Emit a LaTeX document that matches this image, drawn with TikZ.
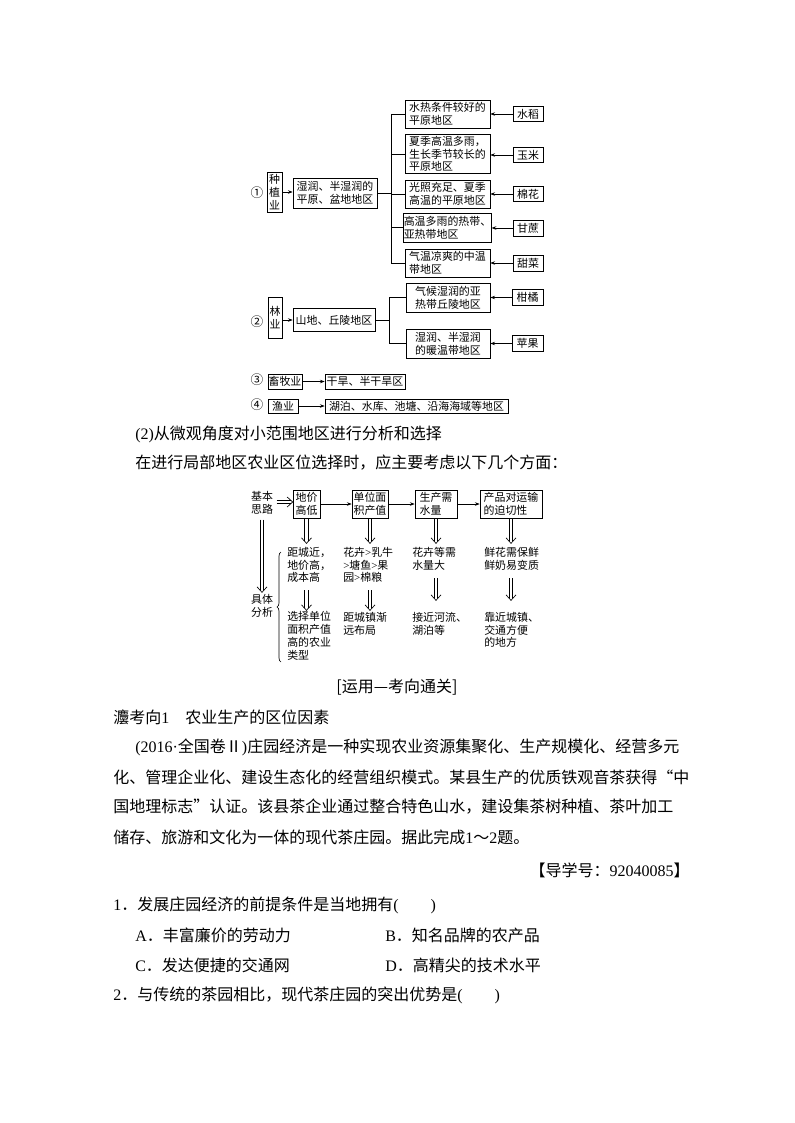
\documentclass[tikz,border=0pt]{standalone}
\usepackage{fontspec}
\setmainfont{Noto Sans CJK SC}
\newfontfamily\lat{Liberation Serif}
\XeTeXlinebreaklocale "zh"
\XeTeXlinebreakskip=0pt plus 2pt
\usetikzlibrary{arrows.meta,decorations.pathreplacing,calc}
\newcommand\dgf{\fontsize{8.2}{9.6}\selectfont}
\newcommand\txf{\fontsize{12}{14}\selectfont}
% vertical double arrow (downwards) from #1 to #2
\newcommand\dva[2]{%
  \draw[ln] ($(#1)+(-1.7,0)$) -- ($(#2)+(-1.7,-2)$);
  \draw[ln] ($(#1)+(1.7,0)$) -- ($(#2)+(1.7,-2)$);
  \draw[ln,line join=miter] ($(#2)+(-5,-5.5)$) -- (#2) -- ($(#2)+(5,-5.5)$);}
% horizontal double arrow (rightwards) from #1 to #2
\newcommand\dha[2]{%
  \draw[ln] ($(#1)+(0,-1.7)$) -- ($(#2)+(-2,-1.7)$);
  \draw[ln] ($(#1)+(0,1.7)$) -- ($(#2)+(-2,1.7)$);
  \draw[ln,line join=miter] ($(#2)+(-5.5,-5)$) -- (#2) -- ($(#2)+(-5.5,5)$);}
\begin{document}
\begin{tikzpicture}[x=0.75pt,y=-0.75pt,
  bx/.style={draw,line width=0.5pt,inner sep=0pt,align=left,font=\dgf},
  wh/.style 2 args={minimum width=#1*0.75pt,minimum height=#2*0.75pt},
  ar/.style={-{Stealth[length=3.5pt,width=2.6pt]},line width=0.5pt},
  ln/.style={line width=0.5pt},
  lbl/.style={inner sep=0pt,align=left,font=\dgf},
  num/.style={inner sep=0pt,font=\fontsize{9.5}{10}\selectfont},
  tx/.style={inner sep=0pt,anchor=west,font=\txf}]
\useasboundingbox (0,0) rectangle (794,1123);
\fill[white] (0,0) rectangle (794,1123);

% ---------- top diagram: group 1 ----------
\node[num] (c1) at (257,193) {①};
\node[bx,wh={15}{40},align=center] (zz) at (274.5,192) {种\\植\\业};
\node[bx,wh={84}{30}] (sr) at (335,193) {湿润、半湿润的\\平原、盆地地区};
\coordinate (b1) at (391,193);
\node[bx,wh={85}{28}] (m1) at (447.5,114) {水热条件较好的\\平原地区};
\node[bx,wh={85}{39}] (m2) at (447.5,154) {夏季高温多雨，\\生长季节较长的\\平原地区};
\node[bx,wh={85}{28}] (m3) at (447.5,194) {光照充足、夏季\\高温的平原地区};
\node[bx,wh={85}{29}] (m4) at (447.5,227.5) {高温多雨的热带、\\亚热带地区};
\node[bx,wh={85}{28}] (m5) at (447.5,263) {气温凉爽的中温\\带地区};
\node[bx,wh={30}{15}] (r1) at (528,114) {水稻};
\node[bx,wh={30}{15}] (r2) at (528,155) {玉米};
\node[bx,wh={30}{15}] (r3) at (528,194) {棉花};
\node[bx,wh={30}{16}] (r4) at (528,228) {甘蔗};
\node[bx,wh={30}{16}] (r5) at (528,263) {甜菜};
\draw[ar] (zz.east) -- (zz.east -| sr.west);
\draw[ln] (sr.east) -- (b1);
\draw[ln] (b1 |- m1.west) -- (b1 |- m5.west);
\foreach \m in {m1,m2,m3,m4,m5} \draw[ln] (b1 |- \m.west) -- (\m.west);
\foreach \r/\m in {r1/m1,r2/m2,r3/m3,r4/m4,r5/m5} \draw[ar] (\r.west) -- (\r.west -| \m.east);

% ---------- group 2 ----------
\node[num] (c2) at (257,322) {②};
\node[bx,wh={14}{41},align=center] (ly) at (275,317.5) {林\\业};
\node[bx,wh={82}{23}] (sd) at (334,320) {山地、丘陵地区};
\coordinate (b2) at (389,320);
\node[bx,wh={84}{29}] (m6) at (448,297.5) {气候湿润的亚\\热带丘陵地区};
\node[bx,wh={84}{29}] (m7) at (448,343.5) {湿润、半湿润\\的暖温带地区};
\node[bx,wh={31}{16}] (r6) at (527.5,297.5) {柑橘};
\node[bx,wh={31}{16}] (r7) at (527.5,343.5) {苹果};
\draw[ar] (ly.east |- sd.west) -- (sd.west);
\draw[ln] (sd.east) -- (b2);
\draw[ln] (b2 |- m6.west) -- (b2 |- m7.west);
\foreach \m in {m6,m7} \draw[ln] (b2 |- \m.west) -- (\m.west);
\foreach \r/\m in {r6/m6,r7/m7} \draw[ar] (\r.west) -- (\r.west -| \m.east);

% ---------- groups 3, 4 ----------
\node[num] (c3) at (257,380) {③};
\node[bx,wh={34}{15}] (xm) at (285,381.5) {畜牧业};
\node[bx,wh={80}{15}] (gh) at (365,381.5) {干旱、半干旱区};
\draw[ar] (xm.east) -- (gh.west);
\node[num] (c4) at (257,405) {④};
\node[bx,wh={30}{14}] (yy) at (283,406) {渔业};
\node[bx,wh={183}{14}] (hp) at (416.5,406) {湖泊、水库、池塘、沿海海域等地区};
\draw[ar] (yy.east) -- (hp.west);

% ---------- middle texts ----------
\node[tx] (h2) at (135,434) {{\lat (2)}从微观角度对小范围地区进行分析和选择};
\node[tx] (p1) at (135,463) {在进行局部地区农业区位选择时，应主要考虑以下几个方面：};

% ---------- second diagram ----------
\node[lbl,align=center] (jb) at (262,503) {基本\\思路};
\node[bx,wh={27}{28}] (dj) at (306.5,504) {地价\\高低};
\node[bx,wh={36}{28}] (dw) at (370,504) {单位面\\积产值};
\node[bx,wh={42}{28}] (sc) at (436,504) {生产需\\水量};
\node[bx,wh={62}{28}] (cp) at (511,504) {产品对运输\\的迫切性};
\draw[ar] (dj) -- (dw);
\draw[ar] (dw) -- (sc);
\draw[ar] (sc) -- (cp);

\node[lbl,anchor=west] (t1) at (287,565) {距城近，\\地价高，\\成本高};
\node[lbl,anchor=west] (t2) at (287,636) {选择单位\\面积产值\\高的农业\\类型};
\node[lbl,anchor=west] (t3) at (343,565) {花卉{\lat >}乳牛\\{\lat >}塘鱼{\lat >}果\\园{\lat >}棉粮};
\node[lbl,anchor=west] (t4) at (343,623.5) {距城镇渐\\远布局};
\node[lbl,anchor=west] (t5) at (412,558.5) {花卉等需\\水量大};
\node[lbl,anchor=west] (t6) at (412,623.5) {接近河流、\\湖泊等};
\node[lbl,anchor=west] (t7) at (484,558.5) {鲜花需保鲜\\鲜奶易变质};
\node[lbl,anchor=west] (t8) at (484,630) {靠近城镇、\\交通方便\\的地方};
\node[lbl,align=center] (fx) at (262,606) {具体\\分析};

% double arrows
\coordinate (h0) at ($(dj.west)+(-16,-2)$);
\coordinate (h1) at ($(dj.west)+(0,-2)$);
\dha{h0}{h1}
\coordinate (v0) at ($(jb.south)+(0,5)$);
\coordinate (v1) at ($(fx.north)+(0,-2)$);
\dva{v0}{v1}
\foreach \b in {dj,dw} {
  \coordinate (s1) at (\b.south);
  \coordinate (e1) at ($(\b.south)+(0,25)$);
  \coordinate (s2) at ($(\b.south)+(0,72)$);
  \coordinate (e2) at ($(\b.south)+(0,92)$);
  \dva{s1}{e1}
  \dva{s2}{e2}
}
\foreach \b in {sc,cp} {
  \coordinate (s1) at (\b.south);
  \coordinate (e1) at ($(\b.south)+(0,25)$);
  \coordinate (s2) at ($(\b.south)+(0,60)$);
  \coordinate (e2) at ($(\b.south)+(0,82)$);
  \dva{s1}{e1}
  \dva{s2}{e2}
}
\coordinate (brb) at (281,662);
\coordinate (brt) at (281,552);
\draw[ln,decorate,decoration={brace,amplitude=3pt}] (brb) -- (brt);

% ---------- lower text ----------
\node[inner sep=0pt,font=\txf] (yy1) at (397,687) {[运用—考向通关]};
\node[tx] (kx) at (113,717) {灋考向{\lat 1}\quad 农业生产的区位因素};
\node[tx] (l1) at (135,747) {\hbox to 416.25pt{{\lat (2016·}全国卷Ⅱ{\lat )}庄园经济是一种实现农业资源集聚化、生产规模化、经营多元}};
\node[tx] (l2) at (113,777) {\hbox to 432.75pt{化、管理企业化、建设生态化的经营组织模式。某县生产的优质铁观音茶获得“中}};
\node[tx] (l3) at (113,807) {\hbox to 432.75pt{国地理标志”认证。该县茶企业通过整合特色山水，建设集茶树种植、茶叶加工}};
\node[tx] (l4) at (113,837) {储存、旅游和文化为一体的现代茶庄园。据此完成{\lat 1}～{\lat 2}题。};
\node[inner sep=0pt,anchor=east,font=\txf] (dx) at (690,870) {【导学号：{\lat 92040085}】};
\node[tx] (q1) at (113,905) {{\lat 1}．发展庄园经济的前提条件是当地拥有{\lat (}　　{\lat )}};
\node[tx] (qa) at (135,935) {{\lat A}．丰富廉价的劳动力};
\node[tx] (qb) at (385,935) {{\lat B}．知名品牌的农产品};
\node[tx] (qc) at (135,965) {{\lat C}．发达便捷的交通网};
\node[tx] (qd) at (385,965) {{\lat D}．高精尖的技术水平};
\node[tx] (q2) at (113,995) {{\lat 2}．与传统的茶园相比，现代茶庄园的突出优势是{\lat (}　　{\lat )}};
\end{tikzpicture}
\end{document}
